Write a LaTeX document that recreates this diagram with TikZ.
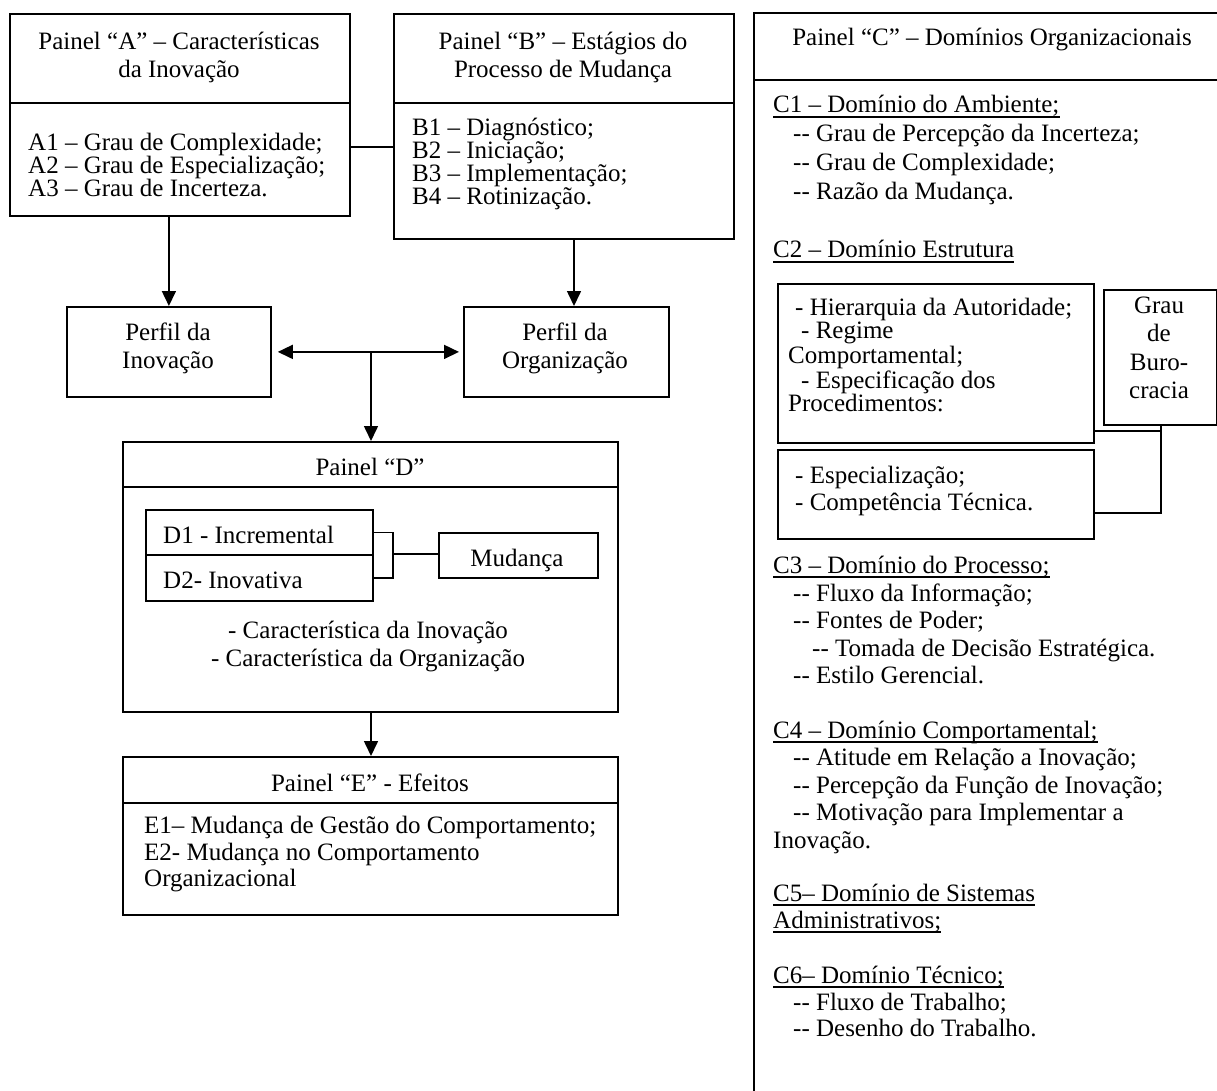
\documentclass[tikz,border=0pt]{standalone}
\usepackage{fontspec}
\setmainfont{Liberation Serif}
\usetikzlibrary{arrows.meta}
% two separate hyphens, kept apart from the en-dash ligature
\newcommand{\twohyph}{\mbox{-}\mbox{-}}

\begin{document}
\begin{tikzpicture}[x=1pt,y=-1pt,
  frame/.style={draw, line width=1.8pt, inner sep=0pt, anchor=north west},
  rule/.style={line width=1.8pt},
  link/.style={line width=1.6pt},
  underl/.style={line width=1.4pt},
  arr/.style={link, -{Triangle[length=15pt,width=14pt]}},
  arrboth/.style={link, {Triangle[length=15pt,width=14pt]}-{Triangle[length=15pt,width=14pt]}},
  txt/.style={font=\fontsize{25}{28}\selectfont, inner sep=0pt, anchor=base west},
  ctr/.style={font=\fontsize{25}{28}\selectfont, inner sep=0pt, anchor=base},
]
\useasboundingbox (0,0) rectangle (1217,1091);

% ---------- Panel A ----------
\node[frame, minimum width=340pt, minimum height=202pt] (A) at (9,13) {};
\draw[rule] (A.west |- 0,103) -- (A.east |- 0,103);
\node[ctr] (At1) at (179,50) {Painel “A” – Características};
\node[ctr] (At2) at (179,78) {da Inovação};
\node[txt] (A1) at (28,151) {A1 – Grau de Complexidade;};
\node[txt] (A2) at (28,174) {A2 – Grau de Especialização;};
\node[txt] (A3) at (28,197) {A3 – Grau de Incerteza.};

% ---------- Panel B ----------
\node[frame, minimum width=340pt, minimum height=225pt] (B) at (393,13) {};
\draw[rule] (B.west |- 0,103) -- (B.east |- 0,103);
\node[ctr] (Bt1) at (563,50) {Painel “B” – Estágios do};
\node[ctr] (Bt2) at (563,78) {Processo de Mudança};
\node[txt] (B1) at (412,136) {B1 – Diagnóstico;};
\node[txt] (B2) at (412,159) {B2 – Iniciação;};
\node[txt] (B3) at (412,182) {B3 – Implementação;};
\node[txt] (B4) at (412,205) {B4 – Rotinização.};

\coordinate (abrow) at (0,147);
\draw[link] (A.east |- abrow) -- (B.west |- abrow);

% ---------- Profiles ----------
\node[frame, minimum width=204pt, minimum height=90pt] (PI) at (66,306) {};
\node[ctr] (PI1) at (168,340) {Perfil da};
\node[ctr] (PI2) at (168,368) {Inovação};
\node[frame, minimum width=205pt, minimum height=90pt] (PO) at (463,306) {};
\node[ctr] (PO1) at (565,340) {Perfil da};
\node[ctr] (PO2) at (565,368) {Organização};

\draw[arr] (PI.north |- A.south) -- (PI.north);
\coordinate (bcol) at (574,0);
\draw[arr] (bcol |- B.south) -- (bcol |- PO.north);
\draw[arrboth, shorten <=6pt, shorten >=4pt] (PI.east) -- (PO.west);

% ---------- Panel D ----------
\node[frame, minimum width=495pt, minimum height=270pt] (D) at (122,441) {};
\draw[rule] (D.west |- 0,487) -- (D.east |- 0,487);
\node[ctr] (Dt) at (370,475) {Painel “D”};
\node[frame, minimum width=227pt, minimum height=45pt] (D1) at (145,509) {};
\node[frame, minimum width=227pt, minimum height=46pt] (D2) at (145,554) {};
\node[txt] (D1t) at (163,543) {D1 - Incremental};
\node[txt] (D2t) at (163,588) {D2- Inovativa};
\node[frame, minimum width=159pt, minimum height=45pt] (M) at (438,532) {};
\node[ctr] (Mt) at (517,566) {Mudança};
\coordinate (brk) at (393,554);
\draw[link] (D1.east) -| (brk) |- (D2.east);
\draw[link] (brk) -- (brk -| M.west);
\node[ctr] (Dc1) at (368,638) {- Característica da Inovação};
\node[ctr] (Dc2) at (368,666) {- Característica da Organização};

\coordinate (hub) at (371,351);
\draw[arr] (hub) -- (hub |- D.north);

% ---------- Panel E ----------
\node[frame, minimum width=495pt, minimum height=158pt] (E) at (122,756) {};
\draw[rule] (E.west |- 0,803) -- (E.east |- 0,803);
\node[ctr] (Et) at (370,791) {Painel “E” - Efeitos};
\node[txt] (E1) at (144,833) {E1– Mudança de Gestão do Comportamento;};
\node[txt] (E2) at (144,860) {E2- Mudança no Comportamento};
\node[txt] (E3) at (144,886) {Organizacional};
\draw[arr] (hub |- D.south) -- (hub |- E.north);

% ---------- Panel C ----------
\draw[rule] (1217,13) -- (754,13) -- (754,1091);
\draw[rule] (754,80) -- (1217,80);
\node[ctr] (Ct) at (992,46) {Painel “C” – Domínios Organizacionais};

\node[txt] (C1) at (773,113) {C1 – Domínio do Ambiente;};
\node[txt] (C1a) at (793,142) {\twohyph{} Grau de Percepção da Incerteza;};
\node[txt] (C1b) at (793,171) {\twohyph{} Grau de Complexidade;};
\node[txt] (C1c) at (793,200) {\twohyph{} Razão da Mudança.};

\node[txt] (C2) at (773,258) {C2 – Domínio Estrutura};
\node[frame, minimum width=316pt, minimum height=159pt] (S1) at (777,283) {};
\node[txt] (S1a) at (795,315) {- Hierarquia da Autoridade;};
\node[txt] (S1b) at (801,338) {- Regime};
\node[txt] (S1c) at (788,363) {Comportamental;};
\node[txt] (S1d) at (801,388) {- Especificação dos};
\node[txt] (S1e) at (788,411) {Procedimentos:};
\node[frame, minimum width=316pt, minimum height=89pt] (S2) at (777,449) {};
\node[txt] (S2a) at (795,483) {- Especialização;};
\node[txt] (S2b) at (795,510) {- Competência Técnica.};
\node[frame, minimum width=113pt, minimum height=135pt] (G) at (1103,289) {};
\node[ctr] (G1) at (1159,313) {Grau};
\node[ctr] (G2) at (1159,341) {de};
\node[ctr] (G3) at (1159,370) {Buro-};
\node[ctr] (G4) at (1159,398) {cracia};
\coordinate (gcol) at (1161,0);
\draw[link] (gcol |- G.south) -- (gcol |- 0,513) -- (S2.east |- 0,513);
\draw[link] (S1.east |- 0,431) -- (gcol |- 0,431);

\node[txt] (C3) at (773,573) {C3 – Domínio do Processo;};
\node[txt] (C3a) at (793,601) {\twohyph{} Fluxo da Informação;};
\node[txt] (C3b) at (793,628) {\twohyph{} Fontes de Poder;};
\node[txt] (C3c) at (812,656) {\twohyph{} Tomada de Decisão Estratégica.};
\node[txt] (C3d) at (793,683) {\twohyph{} Estilo Gerencial.};

\node[txt] (C4) at (773,738) {C4 – Domínio Comportamental;};
\node[txt] (C4a) at (793,765) {\twohyph{} Atitude em Relação a Inovação;};
\node[txt] (C4b) at (793,793) {\twohyph{} Percepção da Função de Inovação;};
\node[txt] (C4c) at (793,820) {\twohyph{} Motivação para Implementar a};
\node[txt] (C4d) at (773,848) {Inovação.};

\node[txt] (C5) at (773,901) {C5– Domínio de Sistemas};
\node[txt] (C5b) at (773,928) {Administrativos;};

\node[txt] (C6) at (773,983) {C6– Domínio Técnico;};
\node[txt] (C6a) at (793,1010) {\twohyph{} Fluxo de Trabalho;};
\node[txt] (C6b) at (793,1036) {\twohyph{} Desenho do Trabalho.};

% underlined domain headings
\foreach \h in {C1,C2,C3,C4,C5,C5b,C6}
  \draw[underl] ([yshift=-4pt]\h.base west) -- ([yshift=-4pt]\h.base east);
\end{tikzpicture}
\end{document}
